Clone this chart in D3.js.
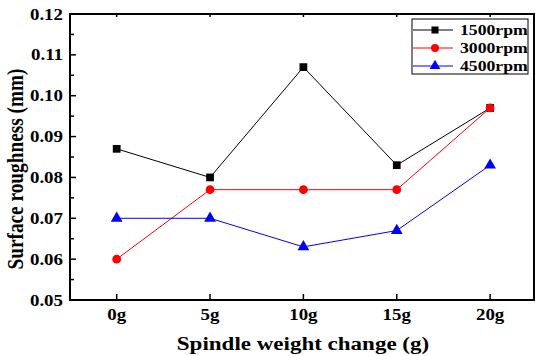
<!DOCTYPE html>
<html>
<head>
<meta charset="utf-8">
<script src="https://cdn.jsdelivr.net/npm/d3@7"></script>
<style>
  body { margin: 0; background: #fff; }
</style>
</head>
<body>
<svg id="chart" width="535" height="356"></svg>
<script>
// categories (spindle weight, g) and tick labels
const weights = [0, 5, 10, 15, 20]
const weightLabels = ["0g", "5g", "10g", "15g", "20g"]
const yTicks = [0.05, 0.06, 0.07, 0.08, 0.09, 0.10, 0.11, 0.12]

// series values (surface roughness, mm)
const rpm1500 = [0.087, 0.080, 0.107, 0.083, 0.097]
const rpm3000 = [0.060, 0.077, 0.077, 0.077, 0.097]
const rpm4500 = [0.070, 0.070, 0.063, 0.067, 0.083]
const seriesNames = ["1500rpm", "3000rpm", "4500rpm"]

const series = [
	{name: seriesNames[0], values: rpm1500, color: "#000000", shape: d3.symbolSquare},
	{name: seriesNames[1], values: rpm3000, color: "#ff0000", shape: d3.symbolCircle},
	{name: seriesNames[2], values: rpm4500, color: "#0000ff", shape: d3.symbolTriangle}
]

const FONT = "'Liberation Serif', 'Times New Roman', serif"
// the source picture is a bit stretched sideways, so text gets widened too
const SX = 1.18

const svg = d3.select("#chart")
const pLeft = 70, pRight = 534, pTop = 14, pBottom = 300

const x = d3.scaleLinear().domain([-2.5, 22.35]).range([pLeft, pRight])
const y = d3.scaleLinear().domain([0.05, 0.12]).range([pBottom, pTop])

// minor ticks on y (halfway between majors)
const yMinor = d3.range(0.055, 0.12, 0.01)

// text helper: places a bold serif label with the sideways stretch
function label(parent, tx, ty, txt, size, anchor, rot) {
	return parent.append("text")
		.attr("transform", "translate(" + tx + "," + ty + ") scale(" + SX + ",1)" + (rot ? " rotate(" + rot + ")" : ""))
		.attr("text-anchor", anchor || "start")
		.style("font-family", FONT)
		.style("font-weight", "bold")
		.style("font-size", size + "px")
		.text(txt)
}

const g = svg.append("g")

// ticks, inward
yTicks.forEach(t => {
	g.append("line").attr("x1", pLeft).attr("x2", pLeft + 6)
		.attr("y1", y(t)).attr("y2", y(t)).attr("stroke", "#000").attr("stroke-width", 1.5)
})
yMinor.forEach(t => {
	g.append("line").attr("x1", pLeft).attr("x2", pLeft + 4)
		.attr("y1", y(t)).attr("y2", y(t)).attr("stroke", "#000").attr("stroke-width", 1.5)
})
weights.forEach(w => {
	g.append("line").attr("x1", x(w)).attr("x2", x(w))
		.attr("y1", pBottom).attr("y2", pBottom - 6).attr("stroke", "#000").attr("stroke-width", 1.5)
	g.append("line").attr("x1", x(w)).attr("x2", x(w))
		.attr("y1", pTop).attr("y2", pTop + 3).attr("stroke", "#000").attr("stroke-width", 1.5)
})

// frame
g.append("rect").attr("x", pLeft).attr("y", pTop)
	.attr("width", pRight - pLeft).attr("height", pBottom - pTop)
	.attr("fill", "none").attr("stroke", "#000").attr("stroke-width", 2)

// tick labels
yTicks.forEach(t => label(g, pLeft - 7, y(t) + 5.5, t.toFixed(2), 16, "end"))
weights.forEach((w, i) => label(g, x(w), 320, weightLabels[i], 16, "middle"))

// axis titles
label(svg, 303, 350, "Spindle weight change (g)", 19.5, "middle")
label(svg, 23, 169, "Surface roughness (mm)", 19.3, "middle", -90)

// lines + markers
const line = d3.line().x((d, i) => x(weights[i])).y(d => y(d))
series.forEach(s => {
	g.append("path").attr("d", line(s.values))
		.attr("fill", "none").attr("stroke", s.color).attr("stroke-width", 1)
	g.selectAll(null).data(s.values).join("path")
		.attr("d", d3.symbol().type(s.shape).size(s.shape === d3.symbolTriangle ? 60 : 60))
		.attr("transform", (d, i) => "translate(" + x(weights[i]) + "," + y(d) + ")")
		.attr("fill", s.color)
})

// legend
const lg = svg.append("g").attr("transform", "translate(412,19)")
lg.append("rect").attr("width", 116).attr("height", 55)
	.attr("fill", "#fff").attr("stroke", "#000").attr("stroke-width", 1)
series.forEach((s, i) => {
	const ly = 11 + i * 18
	lg.append("line").attr("x1", 1).attr("x2", 41).attr("y1", ly).attr("y2", ly)
		.attr("stroke", s.color).attr("stroke-width", 1)
	lg.append("path").attr("d", d3.symbol().type(s.shape).size(50))
		.attr("transform", "translate(23," + ly + ")").attr("fill", s.color)
	label(lg, 48, ly + 5, s.name, 15)
})
</script>
</body>
</html>
